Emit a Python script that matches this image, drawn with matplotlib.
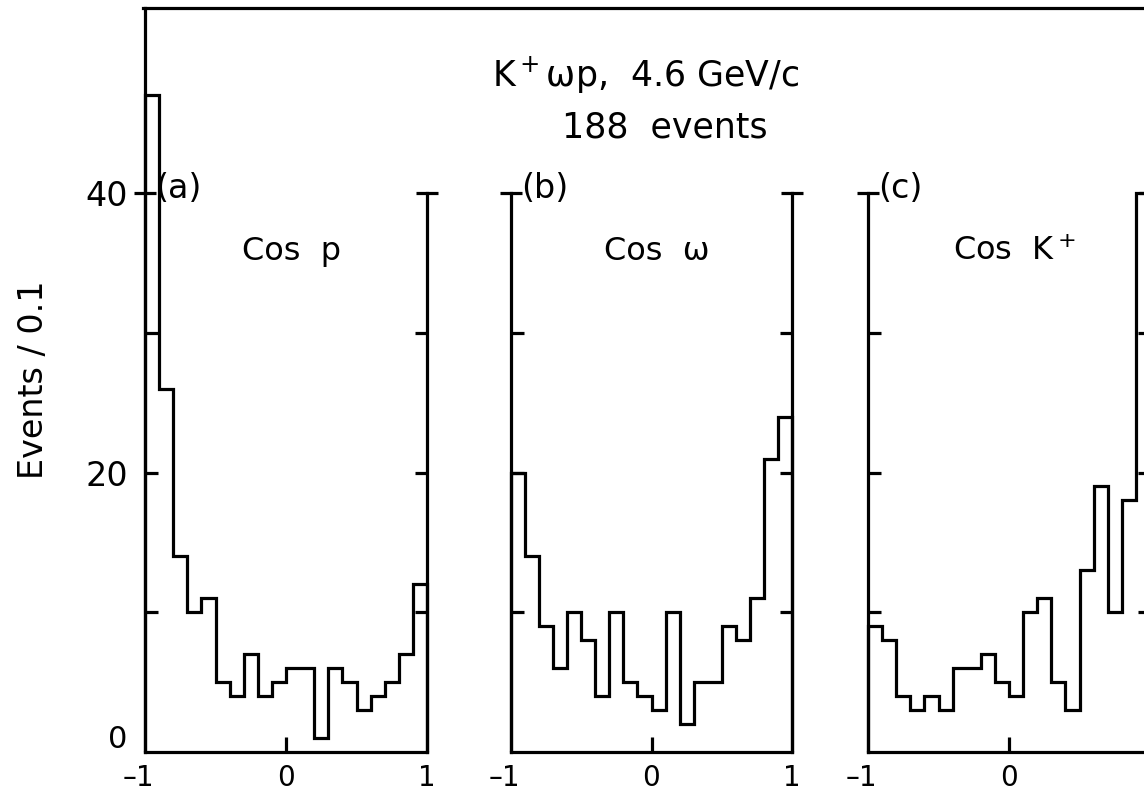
import numpy as np
import matplotlib
matplotlib.use("Agg")
import matplotlib.pyplot as plt
from matplotlib.lines import Line2D
from matplotlib.ticker import FixedLocator, FixedFormatter

# events per 0.1 bin of cos(theta), K+ omega p at 4.6 GeV/c
cos_p = [47, 26, 14, 10, 11, 5, 4, 7, 4, 5, 6, 6, 1, 6, 5, 3, 4, 5, 7, 12]
cos_omega = [20, 14, 9, 6, 10, 8, 4, 10, 5, 4, 3, 10, 2, 5, 5, 9, 8, 11, 21, 24]
cos_kplus = [9, 8, 4, 3, 4, 3, 6, 6, 7, 5, 4, 10, 11, 5, 3, 13, 19, 10, 18, 40]
bin_edges = np.linspace(-1.0, 1.0, 21)

panel_tags = ["(a)", "(b)", "(c)"]
panel_names = ["Cos  p", "Cos  \u03c9", "Cos  K$^+$"]

W, H = 1144, 794
fig = plt.figure(figsize=(W / 100, H / 100), dpi=100)

lw = 2.3
label_font = ["DejaVu Sans"]
title_font = ["DejaVu Sans"]


def px_axes(x0, x1, y_bottom, y_top):
    return fig.add_axes([x0 / W, 1 - y_bottom / H, (x1 - x0) / W, (y_bottom - y_top) / H])


# pixel frames: x=-1 .. x=1, y=0 .. top
ax_a = px_axes(145, 427, 752, 8)
ax_b = px_axes(511, 792, 752, 193)
ax_c = px_axes(868, 1150, 752, 193)
axes = [ax_a, ax_b, ax_c]
data = [cos_p, cos_omega, cos_kplus]

for ax, counts, tag, name in zip(axes, data, panel_tags, panel_names):
    ax.stairs(counts, bin_edges, baseline=0, color="black", lw=lw, clip_on=False)
    ax.set_xlim(-1, 1)
    ax.set_ylim(0, 40)
    ax.patch.set_visible(False)
    ax.spines["top"].set_visible(False)
    for s in ["left", "right", "bottom"]:
        ax.spines[s].set_linewidth(lw)
        ax.spines[s].set_capstyle("projecting")

    ax.yaxis.set_major_locator(FixedLocator([10, 20, 30]))
    ax.yaxis.set_minor_locator(FixedLocator([40]))
    ax.tick_params(axis="y", which="major", direction="in", length=9, width=lw,
                   left=True, right=True, labelleft=False)
    ax.tick_params(axis="y", which="minor", direction="inout", length=16, width=lw,
                   left=True, right=True, labelleft=False)

    ax.set_xticks([0])
    ax.tick_params(axis="x", which="major", direction="in", length=11, width=lw,
                   labelbottom=False, top=False)

    # x labels, the digit sits on the tick
    xlabels = [(-1, "1"), (0, "0"), (1, "1")] if ax is not ax_c else [(-1, "1"), (0, "0")]
    for xv, txt in xlabels:
        ax.annotate(txt, xy=(xv, 0), xycoords=("data", "axes fraction"),
                    xytext=(0, -28.5), textcoords="offset points", ha="center",
                    va="bottom", fontsize=20, family=label_font)
    ax.annotate("\u2013", xy=(-1, 0), xycoords=("data", "axes fraction"),
                xytext=(-6, -28.5), textcoords="offset points", ha="right",
                va="bottom", fontsize=20, family=label_font)

    ax.text(-0.93, 40.3, tag, ha="left", va="center", fontsize=24, family=label_font)
    ax.text(0.04, 35.8, name, ha="center", va="center", fontsize=23, family=label_font)

# the first panel carries the y scale and runs up to the frame
ax_a.set_ylim(0, (752 - 8) / ((752 - 193) / 40))
ax_a.spines["right"].set_bounds(0, 40)
ax_a.yaxis.set_major_locator(FixedLocator([10, 20, 30]))
ax_a.yaxis.set_major_formatter(FixedFormatter(["", "20", ""]))
ax_a.yaxis.set_minor_formatter(FixedFormatter(["40"]))
ax_a.tick_params(axis="y", which="both", labelleft=True, labelsize=24, pad=12)
ax_a.tick_params(axis="y", which="minor", pad=4)
for t in ax_a.get_yticklabels(which="both"):
    t.set_family(label_font)
# zero label sits a little above the baseline
ax_a.annotate("0", xy=(0, 0), xycoords=("axes fraction", "data"), xytext=(-13, 9),
              textcoords="offset points", ha="right", va="center", fontsize=22,
              family=label_font)
ax_a.set_ylabel("Events / 0.1", fontsize=24, family=label_font, labelpad=26)

ax_c.spines["right"].set_visible(False)

# frame line across the top
fig.add_artist(Line2D([143 / W, 1.0], [1 - 8 / H, 1 - 8 / H], transform=fig.transFigure,
                      color="black", lw=lw))

fig.text(646 / W, 1 - 75 / H, "K$^+$\u03c9p,  4.6 GeV/c", ha="center", va="center",
         fontsize=25, family=title_font)
fig.text(665 / W, 1 - 128 / H, "188  events", ha="center", va="center",
         fontsize=25, family=title_font)

fig.savefig("out.png", dpi=100)
